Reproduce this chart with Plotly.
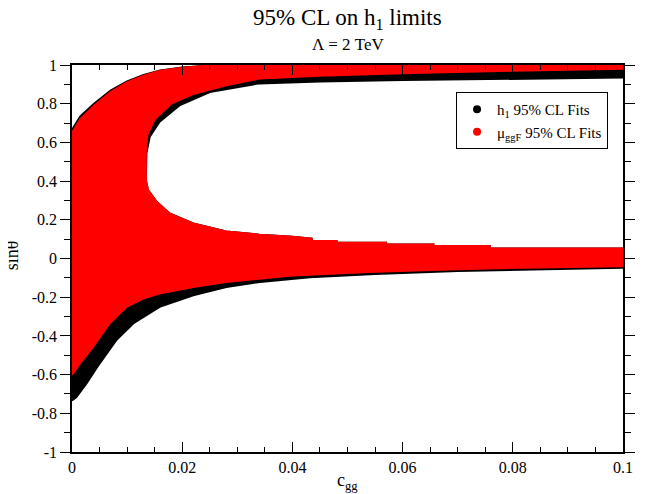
import plotly.graph_objects as go

# ---- data (boundaries of the allowed regions) ----
# upper edge of the upper band (both fits)
c_top = [0.0, 0.0015, 0.004, 0.007, 0.010, 0.013, 0.016, 0.020, 0.025, 0.040, 0.060, 0.080, 0.100]
s_top_mu = [0.65, 0.72, 0.79, 0.86, 0.91, 0.945, 0.97, 0.986, 0.997, 1.0, 1.0, 1.0, 1.0]
s_top_h1 = [0.665, 0.735, 0.80, 0.868, 0.915, 0.948, 0.972, 0.987, 0.997, 1.0, 1.0, 1.0, 1.0]

# inner (hole) edge of the upper band
c_hole_up_h1 = [0.0134, 0.0135, 0.0141, 0.0159, 0.0196, 0.025, 0.034, 0.045, 0.060, 0.080, 0.100]
s_hole_up_h1 = [0.405, 0.543, 0.629, 0.707, 0.793, 0.86, 0.905, 0.915, 0.922, 0.928, 0.935]
c_hole_up_mu = [0.0134, 0.0134, 0.0137, 0.0150, 0.0180, 0.022, 0.028, 0.034, 0.045, 0.060, 0.080, 0.100]
s_hole_up_mu = [0.405, 0.55, 0.64, 0.72, 0.80, 0.85, 0.895, 0.93, 0.945, 0.958, 0.970, 0.980]

# upper edge of the lower band (hole bottom, shared)
c_hole_lo = [0.0134, 0.0138, 0.0153, 0.0177, 0.022, 0.028, 0.034, 0.040, 0.0435, 0.0435,
             0.048, 0.048, 0.057, 0.057, 0.0656, 0.0656, 0.0758, 0.0758, 0.100]
s_hole_lo = [0.405, 0.353, 0.295, 0.233, 0.181, 0.14, 0.123, 0.112, 0.103, 0.091,
             0.091, 0.081, 0.081, 0.072, 0.072, 0.064, 0.064, 0.052, 0.052]

# lower edge of the lower band
c_bot_mu = [0.0, 0.0014, 0.0038, 0.0068, 0.0099, 0.0129, 0.0159, 0.022, 0.028, 0.0341, 0.040, 0.055, 0.070, 0.085, 0.100]
s_bot_mu = [-0.60, -0.543, -0.457, -0.336, -0.25, -0.207, -0.181, -0.147, -0.121, -0.103, -0.088, -0.068, -0.055, -0.046, -0.040]
c_bot_h1 = [0.0, 0.0008, 0.0026, 0.005, 0.008, 0.0111, 0.0159, 0.022, 0.028, 0.0341, 0.0432, 0.055, 0.070, 0.085, 0.100]
s_bot_h1 = [-0.733, -0.716, -0.647, -0.543, -0.423, -0.336, -0.25, -0.19, -0.147, -0.121, -0.097, -0.080, -0.065, -0.055, -0.048]

x_ticks = [0, 0.02, 0.04, 0.06, 0.08, 0.1]
x_tick_text = ["0", "0.02", "0.04", "0.06", "0.08", "0.1"]
y_ticks = [-1, -0.8, -0.6, -0.4, -0.2, 0, 0.2, 0.4, 0.6, 0.8, 1]
y_tick_text = ["-1", "-0.8", "-0.6", "-0.4", "-0.2", "0", "0.2", "0.4", "0.6", "0.8", "1"]


def region(c_top_, s_top_, c_bot_, s_bot_, c_hlo, s_hlo, c_hup, s_hup):
    xs = list(reversed(c_top_)) + list(c_bot_) + list(reversed(c_hlo)) + list(c_hup)
    ys = list(reversed(s_top_)) + list(s_bot_) + list(reversed(s_hlo)) + list(s_hup)
    xs.append(xs[0])
    ys.append(ys[0])
    return xs, ys


FONT = "Liberation Serif"
fig = go.Figure()

hx, hy = region(c_top, s_top_h1, c_bot_h1, s_bot_h1, c_hole_lo, s_hole_lo, c_hole_up_h1, s_hole_up_h1)
mx, my = region(c_top, s_top_mu, c_bot_mu, s_bot_mu, c_hole_lo, s_hole_lo, c_hole_up_mu, s_hole_up_mu)

fig.add_trace(go.Scatter(x=hx, y=hy, mode="lines", fill="toself", fillcolor="black",
                         line=dict(color="black", width=2), showlegend=False, hoverinfo="skip"))
fig.add_trace(go.Scatter(x=mx, y=my, mode="lines", fill="toself", fillcolor="#ff0000",
                         line=dict(color="#ff0000", width=2), showlegend=False, hoverinfo="skip"))

# legend entries
fig.add_trace(go.Scatter(x=[None], y=[None], mode="markers", name="h<sub>1</sub> 95% CL Fits",
                         marker=dict(color="black", size=8)))
fig.add_trace(go.Scatter(x=[None], y=[None], mode="markers", name="μ<sub>ggF</sub> 95% CL Fits",
                         marker=dict(color="#ff0000", size=8)))

axis_common = dict(showgrid=False, zeroline=False, showline=True, linecolor="black", linewidth=1.5,
                   mirror="ticks", tickcolor="black", tickwidth=1.2,
                   tickfont=dict(family=FONT, size=16, color="black"))

fig.update_xaxes(range=[0, 0.1], tickvals=x_ticks, ticktext=x_tick_text, ticks="inside", ticklen=10,
                 minor=dict(dtick=0.005, ticks="inside", ticklen=5, tickcolor="black", tickwidth=1.2),
                 **axis_common)
fig.update_yaxes(range=[-1, 1], tickvals=y_ticks, ticktext=y_tick_text, ticks="outside", ticklen=10,
                 minor=dict(dtick=0.1, ticks="outside", ticklen=6, tickcolor="black", tickwidth=1.2),
                 **axis_common)

fig.update_layout(
    width=644, height=486,
    margin=dict(l=64, r=29, t=57, b=42),
    paper_bgcolor="white", plot_bgcolor="white",
    font=dict(family=FONT, color="black"),
    legend=dict(x=0.697, y=0.930, xanchor="left", yanchor="top",
                bordercolor="black", borderwidth=1, bgcolor="white",
                font=dict(family=FONT, size=15, color="black"),
                itemwidth=30, tracegroupgap=0),
    annotations=[
        dict(text="95% CL on h<sub>1</sub> limits", x=0.5, y=1.118, xref="paper", yref="paper",
             showarrow=False, font=dict(family=FONT, size=23), xanchor="center", yanchor="middle"),
        dict(text="Λ = 2 TeV", x=0.5, y=1.052, xref="paper", yref="paper",
             showarrow=False, font=dict(family=FONT, size=17), xanchor="center", yanchor="middle"),
        dict(text="c<sub>gg</sub>", x=0.5, y=-0.076, xref="paper", yref="paper",
             showarrow=False, font=dict(family=FONT, size=18), xanchor="center", yanchor="middle"),
        dict(text="sinθ", x=-0.109, y=0.508, xref="paper", yref="paper", textangle=-90,
             showarrow=False, font=dict(family=FONT, size=18), xanchor="center", yanchor="middle"),
    ],
)

fig.write_html("out.html")
